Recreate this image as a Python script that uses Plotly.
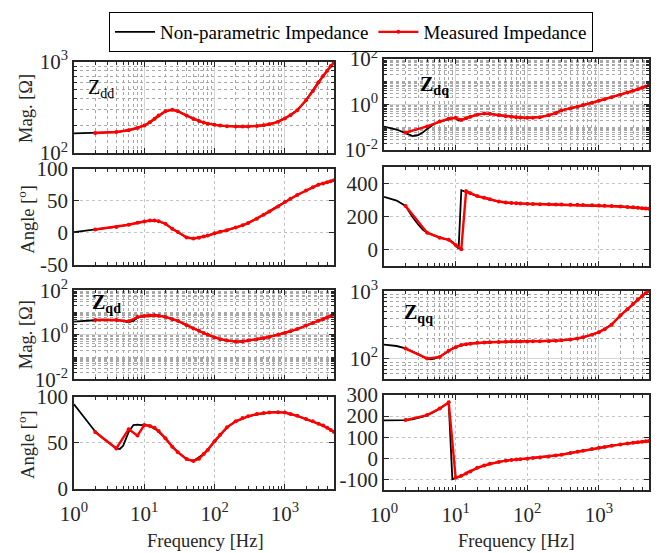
import plotly.graph_objects as go

# ---------------------------------------------------------------------------
# Frequency grids [Hz]
# ---------------------------------------------------------------------------
f_np = [1, 1.5, 2, 2.5, 3, 3.5, 4, 4.5, 5, 6, 7, 8, 9, 10, 11, 12, 15, 20, 25, 30,
        40, 50, 70, 100, 150, 200, 300, 500, 700, 1000, 1500, 2000, 3000, 4000, 5000]
f_meas = [2, 4, 6, 8, 10, 12, 14, 16, 20, 25, 30, 40, 50, 60, 70, 80, 100, 120, 150,
          200, 250, 300, 400, 500, 600, 800, 1000, 1200, 1500, 2000, 2500, 3000,
          3500, 4000, 4500, 5000]

# ---------------------------------------------------------------------------
# Zdd
# ---------------------------------------------------------------------------
zdd_mag_np = [164, 165, 166, 167, 168, 169, 170, 172, 174, 178, 183, 188, 194, 200, 208,
              218, 250, 288, 298, 288, 258, 237, 216, 204, 197, 195, 195, 202, 213, 240,
              295, 380, 600, 800, 990]
zdd_mag_meas = [166, 170, 178, 188, 200, 218, 238, 258, 288, 298, 288, 258, 237, 225, 216,
                210, 204, 200, 197, 195, 195, 195, 198, 202, 207, 220, 240, 260, 295, 380,
                480, 600, 700, 800, 900, 990]
zdd_ang_np = [1, 3, 5, 6.5, 7.5, 8.5, 9, 10, 11, 12.5, 14, 15.5, 16.5, 17.5, 18.5, 19,
              18.5, 14, 6, 1, -7.5, -9, -6, -1, 4, 8, 15, 28, 38, 48, 59, 66, 75, 79, 82]
zdd_ang_meas = [5, 9, 12.5, 15.5, 17.5, 19, 19, 18, 14, 6, 1, -7.5, -9, -8, -6, -4.5, -1,
                1.5, 4, 8, 11.5, 15, 22, 28, 33, 41, 48, 53, 59, 66, 71, 75, 77, 79,
                80.5, 82]

# ---------------------------------------------------------------------------
# Zdq
# ---------------------------------------------------------------------------
zdq_mag_np = [0.107, 0.08, 0.056, 0.041, 0.045, 0.06, 0.085, 0.11, 0.14, 0.18, 0.21,
              0.23, 0.25, 0.26, 0.2, 0.21, 0.28, 0.36, 0.40, 0.39, 0.34, 0.31, 0.28,
              0.26, 0.28, 0.34, 0.55, 0.8, 1.1, 1.45, 2.1, 2.7, 4.0, 5.5, 7.0]
zdq_mag_meas = [0.059, 0.11, 0.18, 0.24, 0.26, 0.21, 0.25, 0.29, 0.36, 0.40, 0.39, 0.34,
                0.31, 0.29, 0.28, 0.27, 0.26, 0.26, 0.28, 0.34, 0.42, 0.55, 0.67, 0.8,
                0.95, 1.2, 1.45, 1.7, 2.1, 2.7, 3.4, 4.0, 4.7, 5.5, 6.2, 7.0]
zdq_ang_np = [317, 295, 262, 195, 150, 118, 100, 90, 82, 70, 63, 57, 45, 25, 3, 358, 342,
              322, 312, 303, 289, 283, 278, 275, 273, 272, 271, 269, 268, 265, 262, 259,
              254, 249, 245]
zdq_ang_meas = [262, 100, 70, 57, 25, 0, 352, 340, 322, 312, 303, 289, 283, 280, 278, 277,
                275, 274, 273, 272, 271, 271, 270, 269, 268, 267, 265, 264, 262, 259,
                256, 254, 252, 249, 247, 245]

# ---------------------------------------------------------------------------
# Zqd
# ---------------------------------------------------------------------------
zqd_mag_np = [3.9, 4.3, 4.6, 4.7, 4.7, 4.7, 4.6, 4.4, 4.1, 3.6, 4.3, 5.8, 6.6, 7.0, 7.2,
              7.3, 7.3, 6.3, 5.0, 4.2, 2.7, 1.9, 1.2, 0.75, 0.55, 0.49, 0.55, 0.7, 0.9,
              1.2, 1.8, 2.6, 4.2, 5.9, 8.0]
zqd_mag_meas = [4.6, 4.6, 4.0, 6.2, 7.0, 7.3, 7.4, 7.2, 6.3, 5.0, 4.2, 2.7, 1.9, 1.5, 1.2,
                1.0, 0.75, 0.63, 0.55, 0.49, 0.5, 0.55, 0.62, 0.7, 0.8, 1.0, 1.2, 1.45,
                1.8, 2.6, 3.4, 4.2, 5.0, 5.9, 7.0, 8.0]
zqd_ang_np = [92, 75, 62.5, 56, 51, 47, 44, 43.5, 47, 62, 69.5, 70, 69.5, 70, 69.5, 68.5,
              64, 55, 46, 40, 32.5, 30.5, 38, 52, 67, 73.5, 79, 82.5, 83.5, 83, 79.5, 76,
              71, 66.5, 62]
zqd_ang_meas = [62, 44, 65, 58, 69.5, 68.5, 66.5, 63, 55, 46, 40, 32.5, 30.5, 33, 38,
                42.5, 52, 59, 67, 73.5, 77, 79, 81.5, 82.5, 83, 83.5, 83, 81.5, 79.5, 76,
                73.5, 71, 69, 66.5, 64, 62]

# ---------------------------------------------------------------------------
# Zqq
# ---------------------------------------------------------------------------
zqq_mag_np = [162, 155, 143, 130, 118, 108, 101, 99, 101, 108, 120, 132, 142, 149, 155,
              160, 168, 173, 175, 176, 178, 179, 180, 181, 182, 183, 188, 200, 218, 248,
              320, 440, 650, 850, 1000]
zqq_mag_meas = [142, 101, 107, 132, 149, 160, 165, 168, 173, 175, 176, 178, 179, 180, 180,
                181, 181, 182, 182, 183, 185, 188, 193, 200, 208, 228, 248, 275, 320, 440,
                540, 650, 750, 850, 940, 1000]
zqq_ang_np = [180, 180, 181, 184, 190, 198, 205, 212, 220, 236, 250, 263, -99, -95, -90,
              -85, -64, -45, -34, -26, -17, -11, -6, -2, 4, 9, 17, 31, 41, 50, 60, 66,
              74, 79, 82]
zqq_ang_meas = [181, 205, 236, 265, -91, -83, -72, -62, -45, -34, -26, -17, -11, -8, -6,
                -4.5, -2, 1, 4, 9, 13, 17, 25, 31, 36, 44, 50, 54, 60, 66, 70, 74, 76.5,
                79, 80.5, 82]

# ---------------------------------------------------------------------------
# Axis ticks
# ---------------------------------------------------------------------------
x_tickvals = [1, 10, 100, 1000]
x_ticktext = ["10<sup>0</sup>", "10<sup>1</sup>", "10<sup>2</sup>", "10<sup>3</sup>"]

# ---------------------------------------------------------------------------
# Layout geometry (pixels)
# ---------------------------------------------------------------------------
W, H = 667, 553
ML, MR, MT, MB = 74, 18, 50, 63
PW = W - ML - MR
PH = H - MT - MB


def xp(px):
    return (px - ML) / PW


def yp(py):
    return (H - MB - py) / PH


FONT = "Liberation Serif, Times New Roman, serif"
INK = "#262626"
BLACK = "#000000"
RED = "#ff0000"
TICK_SIZE = 21
TITLE_SIZE = 18.5

panels = [
    # left column
    dict(box=(74, 334, 53, 146), log=True, yrange=[2, 3],
         tv=[100, 1000], tt=["10<sup>2</sup>", "10<sup>3</sup>"],
         np=zdd_mag_np, me=zdd_mag_meas, bottom=False),
    dict(box=(74, 334, 162, 260), log=False, yrange=[-50, 100],
         tv=[-50, 0, 50, 100], tt=["-50", "0", "50", "100"],
         np=zdd_ang_np, me=zdd_ang_meas, bottom=False),
    dict(box=(74, 334, 286, 377), log=True, yrange=[-2, 2],
         tv=[0.01, 1, 100], tt=["10<sup>-2</sup>", "10<sup>0</sup>", "10<sup>2</sup>"],
         np=zqd_mag_np, me=zqd_mag_meas, bottom=False),
    dict(box=(74, 334, 395, 489), log=False, yrange=[0, 100],
         tv=[0, 50, 100], tt=["0", "50", "100"],
         np=zqd_ang_np, me=zqd_ang_meas, bottom=True),
    # right column
    dict(box=(384, 649, 50, 143), log=True, yrange=[-2, 2],
         tv=[0.01, 1, 100], tt=["10<sup>-2</sup>", "10<sup>0</sup>", "10<sup>2</sup>"],
         np=zdq_mag_np, me=zdq_mag_meas, bottom=False),
    dict(box=(384, 649, 160, 261), log=False, yrange=[-100, 500],
         tv=[0, 200, 400], tt=["0", "200", "400"],
         np=zdq_ang_np, me=zdq_ang_meas, bottom=False),
    dict(box=(384, 649, 287, 377), log=True, yrange=[1.69897, 3],
         tv=[100, 1000], tt=["10<sup>2</sup>", "10<sup>3</sup>"],
         np=zqq_mag_np, me=zqq_mag_meas, bottom=False),
    dict(box=(384, 649, 393, 490), log=False, yrange=[-150, 300],
         tv=[-100, 0, 100, 200, 300], tt=["-100", "0", "100", "200", "300"],
         np=zqq_ang_np, me=zqq_ang_meas, bottom=True),
]

fig = go.Figure()
layout = {}

for i, p in enumerate(panels, start=1):
    xa = "x" if i == 1 else f"x{i}"
    ya = "y" if i == 1 else f"y{i}"
    x0, x1, y0, y1 = p["box"]

    fig.add_trace(go.Scatter(
        x=f_np, y=p["np"], xaxis=xa, yaxis=ya, mode="lines",
        line=dict(color=BLACK, width=1.8),
        name="Non-parametric Impedance", showlegend=(i == 1), legendrank=1))
    fig.add_trace(go.Scatter(
        x=f_meas, y=p["me"], xaxis=xa, yaxis=ya, mode="lines+markers",
        line=dict(color=RED, width=2.4), marker=dict(color=RED, size=4),
        name="Measured Impedance", showlegend=(i == 1), legendrank=2))

    mag = p["log"]
    grid_major = dict(showgrid=True, gridcolor="#d4d4d4", gridwidth=1,
                      griddash="solid") if mag else \
        dict(showgrid=True, gridcolor="#c4c4c4", gridwidth=1, griddash="dot")

    xkey = "xaxis" if i == 1 else f"xaxis{i}"
    ykey = "yaxis" if i == 1 else f"yaxis{i}"
    layout[xkey] = dict(
        type="log", domain=[xp(x0), xp(x1)], anchor=ya,
        range=[0, 3.69897], tickmode="array", tickvals=x_tickvals,
        ticktext=x_ticktext, showticklabels=p["bottom"], ticklabelstandoff=5,
        ticks="inside", ticklen=5, tickwidth=1.2, tickcolor=INK,
        showline=True, linecolor=INK, linewidth=1.6, mirror="ticks",
        zeroline=False,
        tickfont=dict(family=FONT, size=TICK_SIZE, color=INK),
        minor=dict(dtick="D1", ticks="inside", ticklen=3, tickcolor=INK,
                   showgrid=mag, gridcolor="#a8a8a8", griddash="dot", gridwidth=1),
        **grid_major)
    ydict = dict(
        type="log" if mag else "linear", domain=[yp(y1), yp(y0)], anchor=xa,
        range=p["yrange"], tickmode="array", tickvals=p["tv"], ticktext=p["tt"],
        ticks="inside", ticklen=5, tickwidth=1.2, tickcolor=INK,
        showline=True, linecolor=INK, linewidth=1.6, mirror="ticks",
        zeroline=False,
        tickfont=dict(family=FONT, size=TICK_SIZE, color=INK),
        **grid_major)
    if mag:
        ydict["minor"] = dict(dtick="D1", ticks="inside", ticklen=3, tickcolor=INK,
                              showgrid=True, gridcolor="#a8a8a8", griddash="dot",
                              gridwidth=1)
    layout[ykey] = ydict

annotations = []
# Panel labels
for text, cx, cy in [("Z<sub>dd</sub>", 101, 80), ("<b>Z<sub>dq</sub></b>", 434, 77),
                     ("<b>Z<sub>qd</sub></b>", 106, 300), ("<b>Z<sub>qq</sub></b>", 418, 310)]:
    annotations.append(dict(text=text, x=xp(cx), y=yp(cy), xref="paper", yref="paper",
                            showarrow=False, xanchor="center", yanchor="middle",
                            font=dict(family=FONT, size=20, color="#000000")))
# Y-axis titles
for text, cy in [("Mag. [Ω]", 100), ("Angle [<sup>o</sup>]", 213),
                 ("Mag. [Ω]", 331), ("Angle [<sup>o</sup>]", 443)]:
    annotations.append(dict(text=text, x=xp(26), y=yp(cy), xref="paper", yref="paper",
                            showarrow=False, xanchor="center", yanchor="middle",
                            textangle=-90,
                            font=dict(family=FONT, size=TITLE_SIZE, color=INK)))
# X-axis titles
for cx in [205, 516]:
    annotations.append(dict(text="Frequency [Hz]", x=xp(cx), y=yp(542), xref="paper",
                            yref="paper", showarrow=False, xanchor="center",
                            yanchor="middle",
                            font=dict(family=FONT, size=TITLE_SIZE, color=INK)))

fig.update_layout(
    width=W, height=H,
    margin=dict(l=ML, r=MR, t=MT, b=MB),
    paper_bgcolor="white", plot_bgcolor="white",
    font=dict(family=FONT, size=17, color=INK),
    showlegend=True,
    legend=dict(orientation="h", x=xp(351), xanchor="center", y=yp(2), yanchor="top",
                bordercolor="#000000", borderwidth=1, bgcolor="white",
                font=dict(family=FONT, size=19, color="#000000"),
                itemwidth=40, tracegroupgap=0),
    annotations=annotations,
    **layout,
)

fig.write_html("out.html")
